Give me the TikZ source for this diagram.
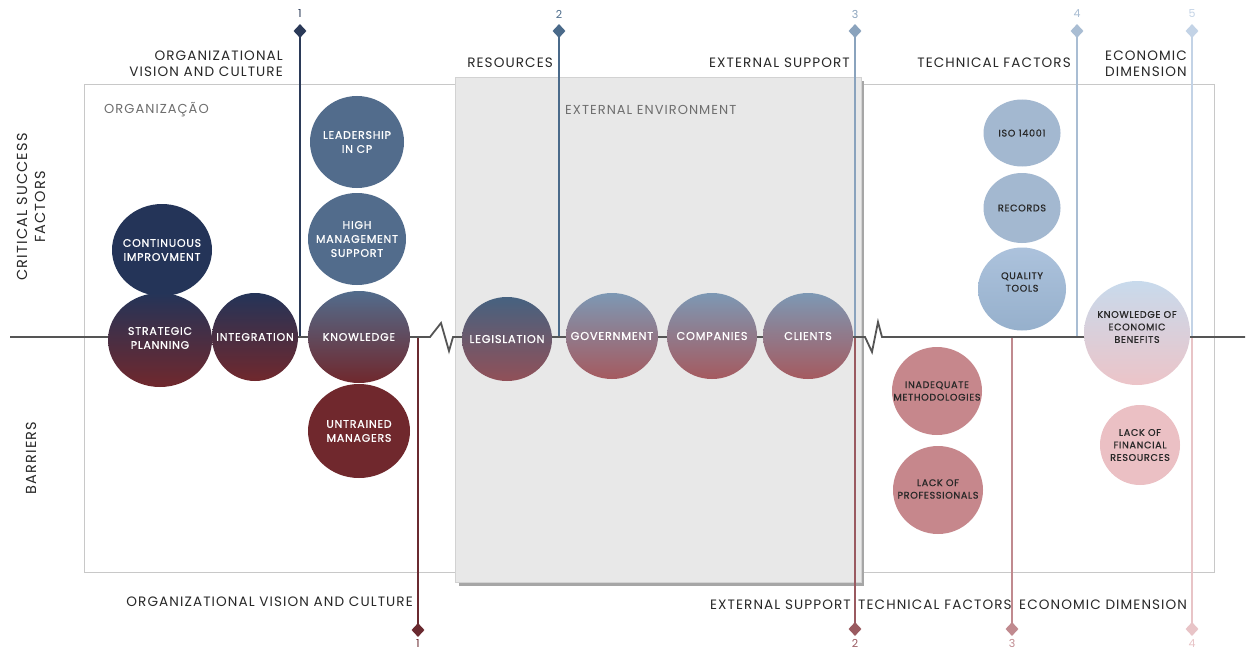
\documentclass[tikz,border=0pt]{standalone}
\usepackage{fontspec}
\setmainfont{Poppins}
\newfontfamily\gf[LetterSpace=8]{Poppins}
\newfontfamily\gfb[LetterSpace=7,FakeBold=0.9]{Poppins}
\usetikzlibrary{shapes.geometric}
\definecolor{navy}{RGB}{36,52,88}
\definecolor{dred}{RGB}{112,40,45}
\definecolor{steel}{RGB}{82,108,140}
\definecolor{legtop}{RGB}{70,98,128}
\definecolor{legbot}{RGB}{145,80,88}
\definecolor{gvtop}{RGB}{125,152,180}
\definecolor{gvbot}{RGB}{165,90,95}
\definecolor{lblue}{RGB}{163,184,208}
\definecolor{qtop}{RGB}{172,194,220}
\definecolor{qbot}{RGB}{150,176,204}
\definecolor{ktop}{RGB}{200,218,236}
\definecolor{kbot}{RGB}{236,196,200}
\definecolor{mpink}{RGB}{198,135,140}
\definecolor{lpink}{RGB}{235,192,196}
\definecolor{txt}{RGB}{40,40,40}
\definecolor{gtxt}{RGB}{110,110,110}
\definecolor{cA}{RGB}{43,58,88}
\definecolor{cB}{RGB}{74,106,138}
\definecolor{cC}{RGB}{138,163,189}
\definecolor{cD}{RGB}{169,189,211}
\definecolor{cE}{RGB}{195,211,230}
\definecolor{rA}{RGB}{106,42,48}
\definecolor{rB}{RGB}{154,90,96}
\definecolor{rC}{RGB}{192,138,143}
\definecolor{rD}{RGB}{232,196,199}
\definecolor{frame}{RGB}{200,200,200}
\definecolor{boxg}{RGB}{232,232,232}
\definecolor{axis}{RGB}{85,85,85}
\begin{document}
\begin{tikzpicture}[x=1pt,y=-1pt,
  hdr/.style={inner sep=0pt, text=txt, font=\gf\fontsize{13.6}{16}\selectfont},
  lbl/.style={inner sep=0pt, text=gtxt, font=\gf\fontsize{13}{15}\selectfont},
  num/.style={inner sep=0pt, font=\gf\fontsize{11}{13}\selectfont},
  disc/.style={ellipse, inner sep=0pt},
  btx/.style={inner sep=0pt, align=center, text=white, font=\gfb\fontsize{11}{14}\selectfont},
  btxm/.style={btx, font=\gfb\fontsize{11.3}{14}\selectfont},
  btxr/.style={inner sep=0pt, align=center, text=txt, font=\gfb\fontsize{9.6}{12.5}\selectfont},
  vline/.style={line width=1.6pt},
  dmd/.style={diamond, inner sep=0pt, minimum width=13pt, minimum height=14pt}
]
\useasboundingbox (0,0) rectangle (1249,650);
\fill[white] (0,0) rectangle (1249,650);
% outer frame
\draw[line width=1pt, frame] (84,85) rectangle (1214,572);
% external environment box with shadow
\fill[gray!70] (459,81) rectangle (864,586);
\fill[boxg] (455,77) rectangle (861,582);
\draw[line width=0.6pt, gray!35] (455,77) rectangle (861,582);
\node[lbl, anchor=west] (lOrg) at (104,110) {ORGANIZAÇÃO};
\node[lbl, anchor=west] (lExt) at (565,110) {EXTERNAL ENVIRONMENT};
% axis coordinates
\coordinate (t1) at (300,31);  \coordinate (a1) at (300,337);
\coordinate (t2) at (559,31);  \coordinate (a2) at (559,337);
\coordinate (t3) at (855,31);  \coordinate (a3) at (855,337);
\coordinate (t4) at (1077,31); \coordinate (a4) at (1077,337);
\coordinate (t5) at (1192,31); \coordinate (a5) at (1192,337);
\coordinate (b1) at (418,630);
\coordinate (b2) at (855,629);
\coordinate (b3) at (1012,629);
\coordinate (b4) at (1192,629);
\coordinate (ab1) at (418,337);
\coordinate (ab3) at (1012,337);
% vertical lines
\draw[vline, cA] (t1) -- (a1);
\draw[vline, cB] (t2) -- (a2);
\draw[vline, cC] (t3) -- (a3);
\draw[vline, cD] (t4) -- (a4);
\draw[vline, cE] (t5) -- (a5);
\draw[vline, rA] (ab1) -- (b1);
\draw[vline, rB] (a3) -- (b2);
\draw[vline, rC] (ab3) -- (b3);
\draw[vline, rD] (a5) -- (b4);
% diamonds
\node[dmd, fill=cA] (d1) at (t1) {};
\node[dmd, fill=cB] (d2) at (t2) {};
\node[dmd, fill=cC] (d3) at (t3) {};
\node[dmd, fill=cD] (d4) at (t4) {};
\node[dmd, fill=cE] (d5) at (t5) {};
\node[dmd, fill=rA] (e1) at (b1) {};
\node[dmd, fill=rB] (e2) at (b2) {};
\node[dmd, fill=rC] (e3) at (b3) {};
\node[dmd, fill=rD] (e4) at (b4) {};
\node[num, text=cA] (n1) at (300,14) {1};
\node[num, text=cB] (n2) at (559,14) {2};
\node[num, text=cC] (n3) at (855,14) {3};
\node[num, text=cD] (n4) at (1077,14) {4};
\node[num, text=cE] (n5) at (1192,14) {5};
\node[num, text=rA, anchor=south] (m1) at (418,647.5) {1};
\node[num, text=rB, anchor=south] (m2) at (855,647.5) {2};
\node[num, text=rC, anchor=south] (m3) at (1012,647.5) {3};
\node[num, text=rD, anchor=south] (m4) at (1192,647.5) {4};
% main axis with breaks
\coordinate (axL) at (10,337);
\coordinate (axR) at (1245,337);
\draw[line width=1.8pt, axis, line join=miter]
  (axL) -- (430,337) -- (441,323) -- (449,351) -- (453,337) -- (865,337)
  -- (872,352) -- (878,322) -- (882,337) -- (axR);
% headers
\node[hdr, align=right, anchor=east] (hOrg) at (283,64) {ORGANIZATIONAL\\VISION AND CULTURE};
\node[hdr, anchor=east] (hRes) at (553,63) {RESOURCES};
\node[hdr, anchor=east] (hExt) at (850,63) {EXTERNAL SUPPORT};
\node[hdr, anchor=east] (hTec) at (1071,63) {TECHNICAL FACTORS};
\node[hdr, align=left, anchor=west] (hEco) at (1105,64) {ECONOMIC\\DIMENSION};
\node[hdr, anchor=east] (fOrg) at (413,602) {ORGANIZATIONAL VISION AND CULTURE};
\node[hdr, anchor=east] (fExt) at (851,605) {EXTERNAL SUPPORT};
\node[hdr, anchor=west] (fTec) at (858,605) {TECHNICAL FACTORS};
\node[hdr, anchor=west] (fEco) at (1019,605) {ECONOMIC DIMENSION};
\node[hdr, rotate=90, align=center, font=\gf\fontsize{14.5}{18}\selectfont] (vCsf) at (31,207) {CRITICAL SUCCESS\\FACTORS};
\node[hdr, rotate=90, font=\gf\fontsize{14.5}{18}\selectfont] (vBar) at (31,458) {BARRIERS};
% left group
\node[disc, fill=navy, minimum width=100pt, minimum height=92pt] (ci) at (162,250) {};
\node[disc, top color=navy, bottom color=dred, minimum width=104pt, minimum height=94pt] (sp) at (160,340) {};
\node[disc, top color=navy, bottom color=dred, minimum width=86pt, minimum height=88pt] (ig) at (255,337) {};
\node[disc, fill=steel, minimum width=94pt, minimum height=92pt] (ld) at (357,142) {};
\node[disc, fill=steel, minimum width=98pt, minimum height=92pt] (hm) at (357,239) {};
\node[disc, top color=steel, bottom color=dred, minimum width=102pt, minimum height=92pt] (kn) at (359,337) {};
\node[disc, fill=dred, minimum width=102pt, minimum height=94pt] (um) at (359,431) {};
\node[btx] (ciT) at (ci) {CONTINUOUS\\IMPROVMENT};
\node[btx] (spT) at (160,338) {STRATEGIC\\PLANNING};
\node[btx] (igT) at (ig) {INTEGRATION};
\node[btx] (ldT) at (ld) {LEADERSHIP\\IN CP};
\node[btx] (hmT) at (hm) {HIGH\\MANAGEMENT\\SUPPORT};
\node[btx] (knT) at (kn) {KNOWLEDGE};
\node[btx] (umT) at (um) {UNTRAINED\\MANAGERS};
% middle group
\node[disc, top color=legtop, bottom color=legbot, minimum width=90pt, minimum height=84pt] (lg) at (507,339) {};
\node[disc, top color=gvtop, bottom color=gvbot, minimum width=92pt, minimum height=86pt] (gv) at (612,336) {};
\node[disc, top color=gvtop, bottom color=gvbot, minimum width=90pt, minimum height=86pt] (cp) at (712,336) {};
\node[disc, top color=gvtop, bottom color=gvbot, minimum width=90pt, minimum height=86pt] (cl) at (808,336) {};
\node[btxm] (lgT) at (lg) {LEGISLATION};
\node[btxm] (gvT) at (gv) {GOVERNMENT};
\node[btxm] (cpT) at (cp) {COMPANIES};
\node[btxm] (clT) at (cl) {CLIENTS};
% right group
\node[disc, fill=lblue, minimum width=77pt, minimum height=67pt] (iso) at (1022,133) {};
\node[disc, fill=lblue, minimum width=77pt, minimum height=70pt] (rc) at (1022,208) {};
\node[disc, top color=qtop, bottom color=qbot, minimum width=88pt, minimum height=83pt] (qt) at (1022,289) {};
\node[disc, top color=ktop, bottom color=kbot, minimum width=106pt, minimum height=104pt] (ke) at (1137,333) {};
\node[disc, fill=mpink, minimum width=90pt, minimum height=88pt] (im) at (937,391) {};
\node[disc, fill=mpink, minimum width=90pt, minimum height=88pt] (lp) at (938,490) {};
\node[disc, fill=lpink, minimum width=80pt, minimum height=80pt] (lf) at (1140,445) {};
\node[btxr] (isoT) at (iso) {ISO 14001};
\node[btxr] (rcT) at (rc) {RECORDS};
\node[btxr] (qtT) at (1022,282) {QUALITY\\TOOLS};
\node[btxr] (keT) at (1137,327) {KNOWLEDGE OF\\ECONOMIC\\BENEFITS};
\node[btxr] (imT) at (937,391) {INADEQUATE\\METHODOLOGIES};
\node[btxr] (lpT) at (938,489) {LACK OF\\PROFESSIONALS};
\node[btxr] (lfT) at (1140,445) {LACK OF\\FINANCIAL\\RESOURCES};
\end{tikzpicture}
\end{document}
